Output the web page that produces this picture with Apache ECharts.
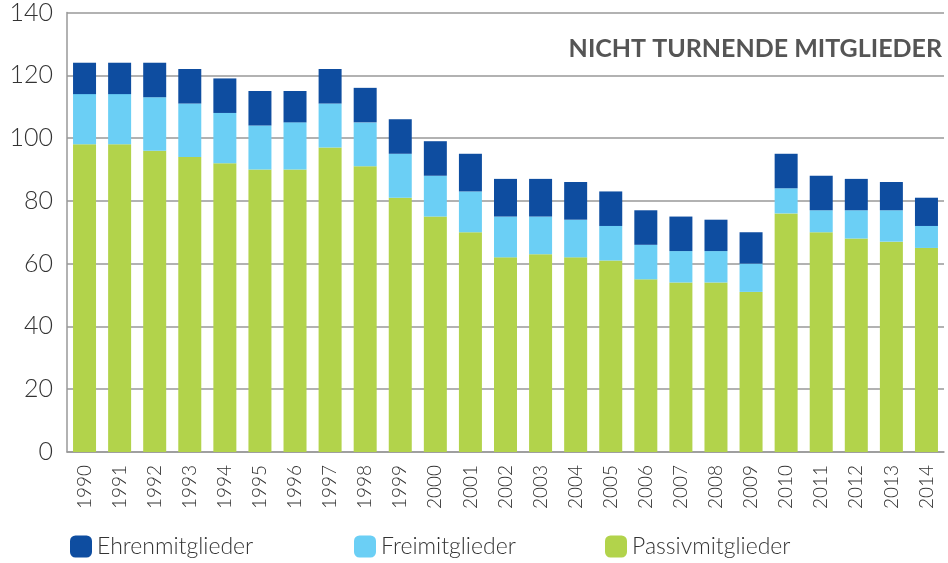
<!DOCTYPE html>
<html>
<head>
<meta charset="utf-8">
<script src="https://cdn.jsdelivr.net/npm/echarts@6/dist/echarts.min.js"></script>
<style>
  html, body { margin: 0; padding: 0; background: #fff; }
  #chart { width: 948px; height: 563px; }
</style>
</head>
<body>
<div id="chart"></div>
<script>
var years = ['1990', '1991', '1992', '1993', '1994', '1995', '1996', '1997', '1998', '1999',
  '2000', '2001', '2002', '2003', '2004', '2005', '2006', '2007', '2008', '2009',
  '2010', '2011', '2012', '2013', '2014']
var passiv = [98, 98, 96, 94, 92, 90, 90, 97, 91, 81, 75, 70, 62, 63, 62, 61, 55, 54, 54, 51, 76, 70, 68, 67, 65]
var frei = [16, 16, 17, 17, 16, 14, 15, 14, 14, 14, 13, 13, 13, 12, 12, 11, 11, 10, 10, 9, 8, 7, 9, 10, 7]
var ehren = [10, 10, 11, 11, 11, 11, 10, 11, 11, 11, 11, 12, 12, 12, 12, 11, 11, 11, 10, 10, 11, 11, 10, 9, 9]

var chart = echarts.init(document.getElementById('chart'))
var font = 'Lato, "Open Sans", sans-serif'

function legendAt (name, left) {
  return {
    data: [name],
    left: left,
    bottom: 0,
    itemWidth: 22,
    itemHeight: 22,
    itemGap: 16,
    textStyle: { fontFamily: font, fontWeight: 300, fontSize: 23, color: '#333' }
  }
}

chart.setOption({
  animation: false,
  title: {
    text: 'NICHT TURNENDE MITGLIEDER',
    right: 1,
    top: 31,
    textStyle: { fontFamily: font, fontSize: 25, fontWeight: 'bold', color: '#555' }
  },
  legend: [
    legendAt('Ehrenmitglieder', 65),
    legendAt('Freimitglieder', 349),
    legendAt('Passivmitglieder', 600)
  ],
  grid: { left: 67, right: 4, top: 10, bottom: 111 },
  xAxis: {
    type: 'category',
    data: years,
    axisTick: { show: false },
    axisLine: { lineStyle: { color: '#999', width: 1.5 } },
    axisLabel: { rotate: 90, margin: 13, fontFamily: font, fontWeight: 300, fontSize: 19, color: '#333' }
  },
  yAxis: {
    type: 'value',
    min: 0,
    max: 140,
    interval: 20,
    axisLine: { show: true, lineStyle: { color: '#999', width: 1.5 } },
    axisTick: { show: false },
    splitLine: { lineStyle: { color: '#999', width: 1.5 } },
    axisLabel: { margin: 14, fontFamily: font, fontWeight: 300, fontSize: 25, color: '#333', padding: [14, 0, 0, 0] }
  },
  series: [
    { name: 'Passivmitglieder', type: 'bar', stack: 'm', data: passiv, barWidth: 23, itemStyle: { color: '#B2D34B' } },
    { name: 'Freimitglieder', type: 'bar', stack: 'm', data: frei, barWidth: 23, itemStyle: { color: '#6BCFF5' } },
    { name: 'Ehrenmitglieder', type: 'bar', stack: 'm', data: ehren, barWidth: 23, itemStyle: { color: '#0E4DA0' } }
  ]
})
</script>
</body>
</html>
